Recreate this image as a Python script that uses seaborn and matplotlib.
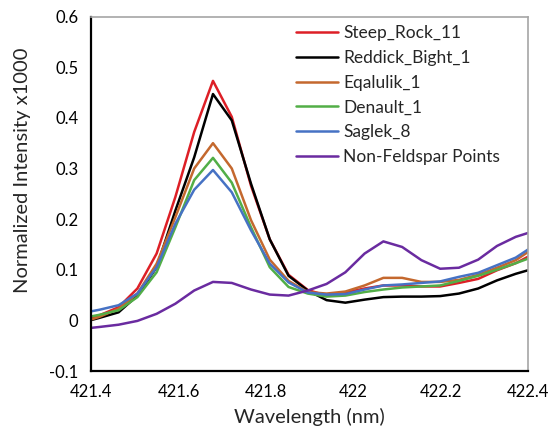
import matplotlib
matplotlib.use("Agg")
import matplotlib.pyplot as plt
import pandas as pd
import seaborn as sns

# ─── Data ─────────────────────────────────────────────────────────────────────
wavelength = [421.376, 421.419, 421.463, 421.506, 421.550, 421.593, 421.636,
              421.679, 421.722, 421.766, 421.809, 421.852, 421.896, 421.939,
              421.982, 422.026, 422.069, 422.112, 422.156, 422.199, 422.242,
              422.286, 422.329, 422.372, 422.416]

steep_rock = [0.000, 0.010, 0.026, 0.063, 0.132, 0.244, 0.372, 0.473, 0.402,
              0.266, 0.160, 0.090, 0.060, 0.049, 0.055, 0.063, 0.069, 0.069,
              0.067, 0.067, 0.074, 0.082, 0.099, 0.113, 0.133]
reddick = [-0.005, 0.005, 0.016, 0.049, 0.105, 0.217, 0.322, 0.447, 0.395,
           0.270, 0.160, 0.088, 0.059, 0.040, 0.035, 0.041, 0.046, 0.047,
           0.047, 0.048, 0.053, 0.063, 0.079, 0.092, 0.103]
eqalulik = [-0.005, 0.007, 0.023, 0.053, 0.112, 0.204, 0.300, 0.350, 0.300,
            0.198, 0.120, 0.078, 0.056, 0.053, 0.057, 0.069, 0.084, 0.084,
            0.076, 0.076, 0.080, 0.090, 0.104, 0.119, 0.144]
denault = [0.004, 0.011, 0.020, 0.046, 0.095, 0.184, 0.277, 0.321, 0.272,
           0.184, 0.105, 0.066, 0.053, 0.047, 0.049, 0.056, 0.061, 0.065,
           0.067, 0.069, 0.078, 0.088, 0.100, 0.113, 0.127]
saglek = [0.014, 0.021, 0.030, 0.053, 0.105, 0.191, 0.258, 0.297, 0.253,
          0.178, 0.112, 0.075, 0.055, 0.051, 0.052, 0.061, 0.069, 0.071,
          0.074, 0.077, 0.086, 0.094, 0.109, 0.124, 0.149]
non_feldspar = [-0.017, -0.013, -0.0085, -0.001, 0.013, 0.033, 0.059, 0.076,
                0.074, 0.061, 0.051, 0.049, 0.059, 0.072, 0.095, 0.132, 0.156,
                0.145, 0.119, 0.102, 0.104, 0.120, 0.147, 0.165, 0.177]

series_names = ["Steep_Rock_11", "Reddick_Bight_1", "Eqalulik_1",
                "Denault_1", "Saglek_8", "Non-Feldspar Points"]
series_values = [steep_rock, reddick, eqalulik, denault, saglek, non_feldspar]
colors = ["#DD1F26", "#000000", "#C4682E", "#52AE47", "#4672C4", "#6A2BA0"]

x_ticks = [421.4, 421.6, 421.8, 422.0, 422.2, 422.4]
x_tick_labels = ["421.4", "421.6", "421.8", "422", "422.2", "422.4"]
y_ticks = [-0.1, 0, 0.1, 0.2, 0.3, 0.4, 0.5, 0.6]
y_tick_labels = ["-0.1", "0", "0.1", "0.2", "0.3", "0.4", "0.5", "0.6"]

# long-form table for seaborn
df = pd.concat(
    [pd.DataFrame({"wavelength": wavelength, "intensity": vals, "series": name})
     for name, vals in zip(series_names, series_values)],
    ignore_index=True,
)

sns.set_theme(style="white")
plt.rcParams["font.family"] = ["Lato", "DejaVu Sans"]

fig = plt.figure(figsize=(5.52, 4.36), dpi=100)
ax = fig.add_axes([0.165, 0.149, 0.7915, 0.813])

sns.lineplot(data=df, x="wavelength", y="intensity", hue="series",
             hue_order=series_names, palette=colors, linewidth=1.8,
             sort=False, ax=ax)

ax.set_xlim(421.4, 422.4)
ax.set_ylim(-0.1, 0.6)
ax.set_xticks(x_ticks)
ax.set_xticklabels(x_tick_labels)
ax.set_yticks(y_ticks)
ax.set_yticklabels(y_tick_labels)
ax.tick_params(axis="both", direction="out", length=5, width=1.2,
               colors="black", labelsize=12)
ax.tick_params(axis="x", pad=4)
ax.tick_params(axis="y", pad=4)

ax.set_xlabel("Wavelength (nm)", fontsize=14.5, labelpad=6)
ax.set_ylabel("Normalized Intensity x1000", fontsize=14.5)
ax.yaxis.set_label_coords(-0.137, 0.567)

for side in ["left", "bottom"]:
    ax.spines[side].set_color("black")
    ax.spines[side].set_linewidth(1.6)
for side in ["top", "right"]:
    ax.spines[side].set_color("#A6A6A6")
    ax.spines[side].set_linewidth(1.2)

leg = ax.legend(loc="upper left", bbox_to_anchor=(0.47, 0.975),
                frameon=False, fontsize=12.5, handlelength=2.4,
                handletextpad=0.3, labelspacing=0.5, borderpad=0,
                borderaxespad=0)
for line in leg.get_lines():
    line.set_linewidth(1.8)

fig.savefig("out.png", dpi=100)
